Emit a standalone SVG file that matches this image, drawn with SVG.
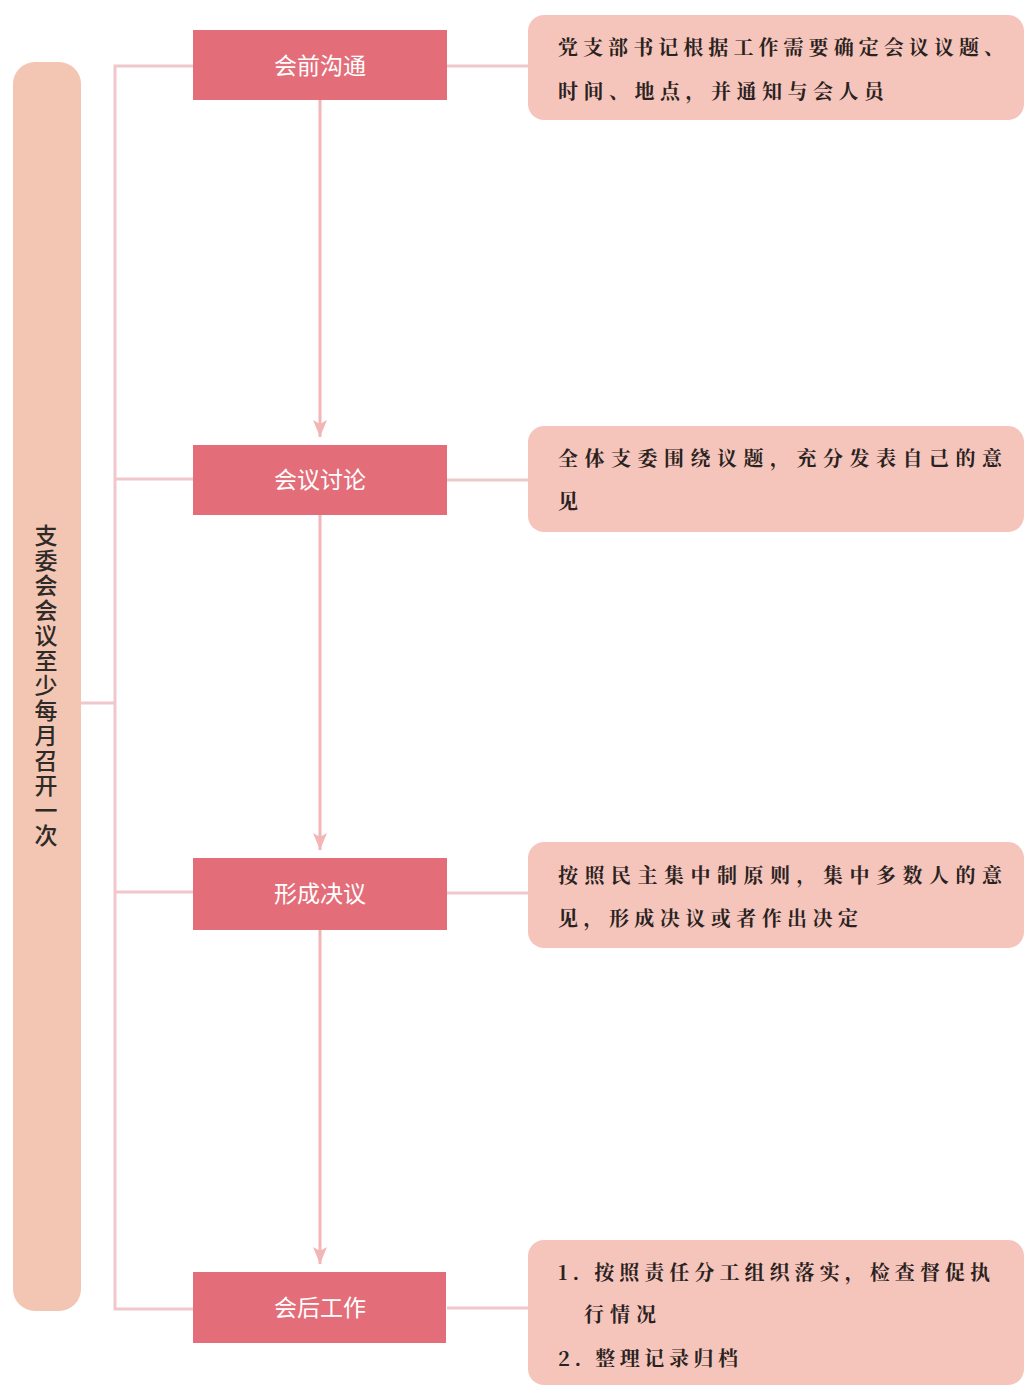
<svg xmlns="http://www.w3.org/2000/svg" width="1025" height="1387" viewBox="0 0 1025 1387">
<defs>
<style>
.pill{fill:#f3c5b3}
.step{fill:#e36e7a}
.note{fill:#f5c5bc}
.ln{stroke:#f0c8cb;stroke-width:3;fill:none}
.arr{stroke:#f1b6b6;stroke-width:3;fill:none}
.st{font-family:"Noto Sans CJK SC","Noto Sans",sans-serif;font-size:23px;fill:#ffffff;text-anchor:middle}
.nt{font-family:"Noto Serif CJK SC","Noto Sans CJK SC",serif;font-weight:bold;font-size:20px;fill:#2a2220}
.vt{font-family:"Noto Sans CJK SC","Noto Sans",sans-serif;font-size:23px;font-weight:500;fill:#2e2a28;text-anchor:middle;writing-mode:vertical-rl;letter-spacing:2px}
</style>
<marker id="ah" viewBox="0 0 18 16" refX="17" refY="8" markerWidth="18" markerHeight="16" markerUnits="userSpaceOnUse" orient="auto">
<path d="M0,1 L17,8 L0,15 L4,8 Z" fill="#f1b6b6"/>
</marker>
</defs>
<rect width="1025" height="1387" fill="#ffffff"/>

<g id="connectors">
<line class="ln" x1="80" y1="703" x2="115" y2="703"/>
<polyline class="ln" points="193,66 115,66 115,1309 193,1309"/>
<line class="ln" x1="115" y1="479" x2="193" y2="479"/>
<line class="ln" x1="115" y1="892" x2="193" y2="892"/>
<line class="ln" x1="447" y1="66" x2="528" y2="66"/>
<line class="ln" x1="447" y1="480" x2="528" y2="480"/>
<line class="ln" x1="447" y1="893" x2="528" y2="893"/>
<line class="ln" x1="447" y1="1308" x2="528" y2="1308"/>
<line class="arr" x1="320" y1="100" x2="320" y2="437" marker-end="url(#ah)"/>
<line class="arr" x1="320" y1="515" x2="320" y2="850" marker-end="url(#ah)"/>
<line class="arr" x1="320" y1="930" x2="320" y2="1264" marker-end="url(#ah)"/>
</g>

<g id="root">
<rect class="pill" x="13" y="62" width="68" height="1249" rx="22"/>
<text class="vt" x="46" y="686">支委会会议至少每月召开一次</text>
</g>

<g id="step1">
<rect class="step" x="193" y="30" width="254" height="70"/>
<text class="st" x="320" y="74">会前沟通</text>
</g>
<g id="step2">
<rect class="step" x="193" y="445" width="254" height="70"/>
<text class="st" x="320" y="488">会议讨论</text>
</g>
<g id="step3">
<rect class="step" x="193" y="858" width="254" height="72"/>
<text class="st" x="320" y="902">形成决议</text>
</g>
<g id="step4">
<rect class="step" x="193" y="1272" width="253" height="71"/>
<text class="st" x="320" y="1316">会后工作</text>
</g>

<g id="note1">
<rect class="note" x="528" y="15" width="496" height="105" rx="16"/>
<text class="nt" x="558" y="55" textLength="446" lengthAdjust="spacing">党支部书记根据工作需要确定会议议题、</text>
<text class="nt" x="558" y="99" textLength="326" lengthAdjust="spacing">时间、地点，并通知与会人员</text>
</g>
<g id="note2">
<rect class="note" x="528" y="426" width="496" height="106" rx="16"/>
<text class="nt" x="558" y="466" textLength="444" lengthAdjust="spacing">全体支委围绕议题，充分发表自己的意</text>
<text class="nt" x="558" y="509">见</text>
</g>
<g id="note3">
<rect class="note" x="528" y="842" width="496" height="106" rx="16"/>
<text class="nt" x="558" y="883" textLength="444" lengthAdjust="spacing">按照民主集中制原则，集中多数人的意</text>
<text class="nt" x="558" y="926" textLength="300" lengthAdjust="spacing">见，形成决议或者作出决定</text>
</g>
<g id="note4">
<rect class="note" x="528" y="1240" width="496" height="145" rx="16"/>
<text class="nt" x="558" y="1280" textLength="432" lengthAdjust="spacing">1. 按照责任分工组织落实，检查督促执</text>
<text class="nt" x="584" y="1322" textLength="72" lengthAdjust="spacing">行情况</text>
<text class="nt" x="558" y="1366" textLength="180" lengthAdjust="spacing">2. 整理记录归档</text>
</g>
</svg>
